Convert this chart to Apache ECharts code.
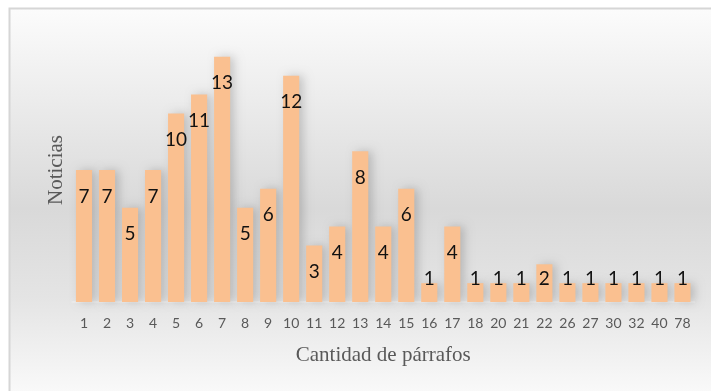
<!DOCTYPE html>
<html>
<head>
<meta charset="utf-8">
<script src="https://cdn.jsdelivr.net/npm/echarts@6/dist/echarts.min.js"></script>
<style>
  html, body { margin: 0; padding: 0; background: #ffffff; }
  #chart { width: 711px; height: 391px; }
</style>
</head>
<body>
<div id="chart"></div>
<script>
// Paragraph counts per news item and how many items have each count
const categories = ['1','2','3','4','5','6','7','8','9','10','11','12','13','14','15','16','17','18','20','21','22','26','27','30','32','40','78'];
const noticias = [7,7,5,7,10,11,13,5,6,12,3,4,8,4,6,1,4,1,1,1,2,1,1,1,1,1,1];
const xAxisTitle = 'Cantidad de párrafos';
const yAxisTitle = 'Noticias';

const chart = echarts.init(document.getElementById('chart'), null, { renderer: 'canvas' });

// Short bars keep their label resting near the base instead of the top
const seriesData = noticias.map(v => v <= 2
  ? { value: v, label: { position: 'insideBottom', distance: 14 } }
  : v);

chart.setOption({
  animation: false,
  graphic: [{
    type: 'rect',
    z: -10,
    shape: { x: 9.5, y: 8.5, width: 720, height: 400 },
    style: {
      fill: {
        type: 'linear', x: 0, y: 0, x2: 0, y2: 1,
        colorStops: [
          { offset: 0, color: '#fcfcfc' },
          { offset: 0.5, color: '#d9d9d9' },
          { offset: 0.72, color: '#e4e4e4' },
          { offset: 1, color: '#fdfdfd' }
        ]
      },
      stroke: '#d6d6d6',
      lineWidth: 2
    }
  }],
  grid: { left: 72.5, right: 17, top: 38, bottom: 89 },
  xAxis: {
    type: 'category',
    data: categories,
    name: xAxisTitle,
    nameLocation: 'middle',
    nameGap: 43,
    nameTextStyle: { fontFamily: 'Liberation Serif', fontSize: 21, color: '#595959' },
    axisLine: { show: true, lineStyle: { color: '#ececec', width: 2 } },
    axisTick: { show: false },
    axisLabel: { margin: 14, fontFamily: 'Lato', fontSize: 14, color: '#595959', interval: 0 }
  },
  yAxis: {
    type: 'value',
    min: 0,
    max: 14,
    interval: 2,
    name: yAxisTitle,
    nameLocation: 'middle',
    nameGap: 6,
    nameRotate: 90,
    nameTextStyle: { fontFamily: 'Liberation Serif', fontSize: 21, color: '#595959' },
    axisLine: { show: false },
    axisTick: { show: false },
    axisLabel: { show: false },
    splitLine: { show: false }
  },
  series: [{
    type: 'bar',
    data: seriesData,
    barCategoryGap: '30%',
    itemStyle: {
      color: '#FAC090',
      shadowColor: 'rgba(0,0,0,0.18)',
      shadowBlur: 10,
      shadowOffsetX: 4,
      shadowOffsetY: 0
    },
    label: {
      show: true,
      position: 'insideTop',
      distance: 17,
      fontFamily: 'Lato',
      fontSize: 19,
      lineHeight: 19,
      color: '#111111'
    }
  }]
});
</script>
</body>
</html>
